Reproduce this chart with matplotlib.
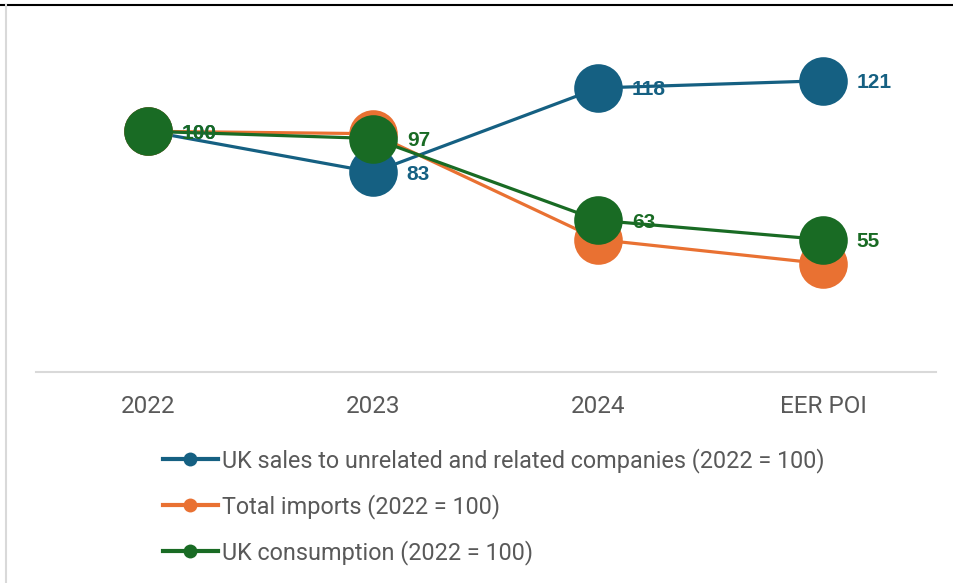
import matplotlib
matplotlib.use("Agg")
import matplotlib.pyplot as plt
from matplotlib.lines import Line2D

# data
categories = ["2022", "2023", "2024", "EER POI"]
uk_sales = [100, 83, 118, 121]
total_imports = [100, 99, 55, 45]
uk_consumption = [100, 97, 63, 55]

series_names = [
    "UK sales to unrelated and related companies (2022 = 100)",
    "Total imports (2022 = 100)",
    "UK consumption (2022 = 100)",
]
blue = "#156082"
orange = "#E97132"
green = "#196B24"
text_grey = "#595959"

W, H = 954, 583
fig = plt.figure(figsize=(W / 100, H / 100), dpi=100)

# axes placed in pixel terms
left, right = 36, 936
bottom, top = 372, 35
ax = fig.add_axes([left / W, 1 - bottom / H, (right - left) / W, (bottom - top) / H])

x = list(range(len(categories)))
series = [(uk_sales, blue, True), (total_imports, orange, False), (uk_consumption, green, True)]

for (vals, col, show_labels), name in zip(series, series_names):
    ax.plot(x, vals, color=col, lw=2.3, marker="o", markersize=35,
            markeredgewidth=0, label=name, solid_capstyle="round")
    if show_labels:
        for xi, v in zip(x, vals):
            ax.annotate(f"{v:.0f}", (xi, v), xytext=(24, 0), textcoords="offset points",
                        ha="left", va="center_baseline", color=col, fontsize=15,
                        fontweight="bold", family="Liberation Sans")

ax.set_xlim(-0.5, len(categories) - 0.5)
ax.set_ylim(0, 140)
ax.set_xticks(x)
ax.set_xticklabels(categories, family="Roboto", fontsize=17.5, color=text_grey)
ax.tick_params(axis="x", length=0, pad=16.5)
ax.set_yticks([])
for s in ["top", "right", "left"]:
    ax.spines[s].set_visible(False)
ax.spines["bottom"].set_color("#d9d9d9")
ax.spines["bottom"].set_linewidth(1.5)

# legend below the chart
handles = [Line2D([], [], color=c, lw=3, marker="o", markersize=10, markeredgewidth=0)
           for c in (blue, orange, green)]
leg = fig.legend(handles, series_names, loc="upper left",
                 bbox_to_anchor=(163 / W, 1 - 448 / H), frameon=False,
                 prop={"family": "Roboto", "size": 16.8}, handlelength=2.35,
                 handletextpad=0.17, labelspacing=0.9, borderpad=0,
                 borderaxespad=0)
for t in leg.get_texts():
    t.set_color(text_grey)

# frame lines of the original screenshot
fig.add_artist(Line2D([0, 1], [1 - 5 / H, 1 - 5 / H], color="black", lw=1.5))
fig.add_artist(Line2D([6 / W, 6 / W], [0, 1 - 5 / H], color="#d9d9d9", lw=1.5))

fig.savefig("out.png", dpi=100)
